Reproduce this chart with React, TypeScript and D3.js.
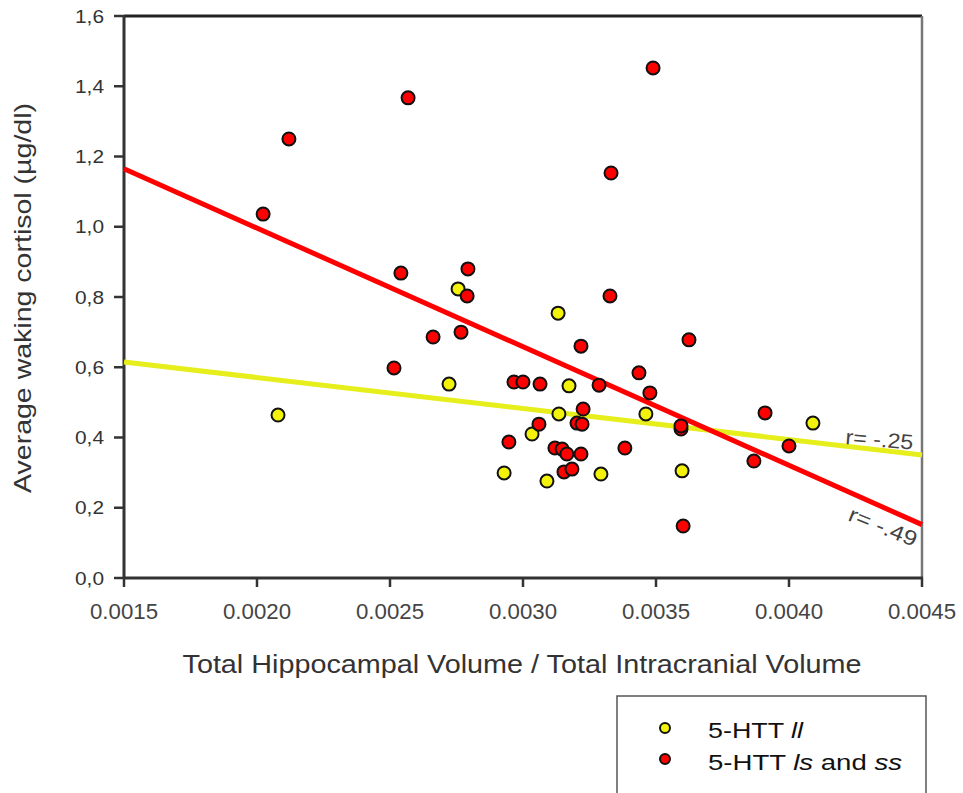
import React from "react";
import * as d3 from "d3";

const xTicks = [0.0015, 0.002, 0.0025, 0.003, 0.0035, 0.004, 0.0045];
const yTicks = [0, 0.2, 0.4, 0.6, 0.8, 1.0, 1.2, 1.4, 1.6];

// 5-HTT ll (yellow)
const llX = [0.002079, 0.002756, 0.002722, 0.002929, 0.003132, 0.003173, 0.003135, 0.003034, 0.00309, 0.003293, 0.003462, 0.003598, 0.00409];
const llY = [0.464, 0.823, 0.552, 0.299, 0.754, 0.547, 0.467, 0.41, 0.276, 0.296, 0.467, 0.305, 0.441];

// 5-HTT ls and ss (red)
const lsX = [0.002023, 0.00212, 0.002568, 0.003489, 0.003331, 0.002541, 0.002793, 0.00279, 0.002767, 0.002662, 0.002515, 0.003327, 0.003218, 0.003624, 0.003436, 0.003286, 0.003477, 0.002966, 0.0030, 0.003064, 0.003226, 0.00306, 0.003203, 0.003222, 0.002947, 0.00312, 0.003147, 0.003165, 0.003218, 0.003154, 0.003184, 0.003383, 0.003594, 0.003594, 0.003868, 0.00391, 0.004, 0.003602];
const lsY = [1.036, 1.25, 1.367, 1.452, 1.153, 0.868, 0.88, 0.803, 0.7, 0.686, 0.598, 0.803, 0.66, 0.678, 0.584, 0.549, 0.527, 0.558, 0.558, 0.552, 0.481, 0.438, 0.441, 0.438, 0.387, 0.37, 0.367, 0.353, 0.353, 0.302, 0.31, 0.37, 0.424, 0.433, 0.333, 0.47, 0.376, 0.148];

// Regression lines: values at x = 0.0015 and x = 0.0045
const fitX = [0.0015, 0.0045];
const llFitY = [0.615, 0.35];
const lsFitY = [1.165, 0.152];

const YELLOW = "#f2f20a";
const RED = "#ff0000";
const FONT = "'Liberation Sans', Arial, sans-serif";

export default function App() {
  const W = 963, H = 793;
  const x = d3.scaleLinear().domain([0.0015, 0.0045]).range([124, 922]);
  const y = d3.scaleLinear().domain([0, 1.6]).range([578, 16]);
  const line = d3.line<[number, number]>().x(d => x(d[0])).y(d => y(d[1]));
  const llLine = line(fitX.map((v, i) => [v, llFitY[i]] as [number, number]))!;
  const lsLine = line(fitX.map((v, i) => [v, lsFitY[i]] as [number, number]))!;

  const llAngle = Math.atan2(y(llFitY[1]) - y(llFitY[0]), x(fitX[1]) - x(fitX[0])) * 180 / Math.PI;
  const lsAngle = Math.atan2(y(lsFitY[1]) - y(lsFitY[0]), x(fitX[1]) - x(fitX[0])) * 180 / Math.PI;

  return (
    <svg width={W} height={H} style={{ position: "absolute", left: 0, top: 0, background: "#fff" }} fontFamily={FONT}>
      <rect x={0} y={0} width={W} height={H} fill="#fff" />
      {/* frame */}
      <line x1={x(0.0015)} x2={x(0.0045)} y1={y(1.6)} y2={y(1.6)} stroke="#222" strokeWidth={3} />
      <line x1={x(0.0045)} x2={x(0.0045)} y1={y(1.6)} y2={y(0)} stroke="#777" strokeWidth={2.5} />
      <line x1={x(0.0015)} x2={x(0.0015)} y1={y(1.6) - 1} y2={y(0) + 1} stroke="#333" strokeWidth={3} />
      <line x1={x(0.0015) - 1} x2={x(0.0045) + 1} y1={y(0)} y2={y(0)} stroke="#333" strokeWidth={3} />
      {/* y ticks */}
      {yTicks.map(t => (
        <g key={"y" + t}>
          <line x1={x(0.0015) - 10} x2={x(0.0015)} y1={y(t)} y2={y(t)} stroke="#333" strokeWidth={2.5} />
          <text x={x(0.0015) - 20} y={y(t)} dy="0.35em" textAnchor="end" fontSize={19} fill="#333" textLength={29} lengthAdjust="spacingAndGlyphs">
            {t.toFixed(1).replace(".", ",")}
          </text>
        </g>
      ))}
      {/* x ticks */}
      {xTicks.map(t => (
        <g key={"x" + t}>
          <line x1={x(t)} x2={x(t)} y1={y(0)} y2={y(0) + 9} stroke="#333" strokeWidth={2.5} />
          <text x={x(t)} y={619} textAnchor="middle" fontSize={22} fill="#444" textLength={68} lengthAdjust="spacingAndGlyphs">
            {t.toFixed(4)}
          </text>
        </g>
      ))}
      {/* axis titles */}
      <text x={522} y={673} textAnchor="middle" fontSize={25} fill="#333" textLength={679} lengthAdjust="spacingAndGlyphs">
        Total Hippocampal Volume / Total Intracranial Volume
      </text>
      <text transform={`translate(31,298) rotate(-90)`} textAnchor="middle" fontSize={24} fill="#333" textLength={390} lengthAdjust="spacingAndGlyphs">
        Average waking cortisol (µg/dl)
      </text>
      {/* regression lines */}
      <path d={llLine} stroke="#e6ee1c" strokeWidth={5} fill="none" />
      <path d={lsLine} stroke={RED} strokeWidth={5} fill="none" />
      {/* r labels */}
      <text transform={`translate(845,444) rotate(${llAngle - 2})`} fontSize={21} fill="#444" textLength={68} lengthAdjust="spacingAndGlyphs">r= -.25</text>
      <text transform={`translate(847,520) rotate(${lsAngle - 2})`} fontSize={21} fill="#444" textLength={72} lengthAdjust="spacingAndGlyphs">r= -.49</text>
      {/* points */}
      {llX.map((v, i) => (
        <circle key={"ll" + i} cx={x(v)} cy={y(llY[i])} r={6.5} fill={YELLOW} stroke="#111" strokeWidth={2} />
      ))}
      {lsX.map((v, i) => (
        <circle key={"ls" + i} cx={x(v)} cy={y(lsY[i])} r={6.5} fill={RED} stroke="#111" strokeWidth={2} />
      ))}
      {/* legend */}
      <rect x={617} y={696} width={309} height={110} fill="#fff" stroke="#555" strokeWidth={1.5} />
      <circle cx={665} cy={728} r={5} fill={YELLOW} stroke="#111" strokeWidth={2} />
      <text x={708} y={738} fontSize={22} fill="#111" textLength={95} lengthAdjust="spacingAndGlyphs">5-HTT <tspan fontStyle="italic">ll</tspan></text>
      <circle cx={665} cy={759} r={5} fill={RED} stroke="#111" strokeWidth={2} />
      <text x={708} y={770} fontSize={22} fill="#111" textLength={194} lengthAdjust="spacingAndGlyphs">5-HTT <tspan fontStyle="italic">ls</tspan> and <tspan fontStyle="italic">ss</tspan></text>
    </svg>
  );
}
